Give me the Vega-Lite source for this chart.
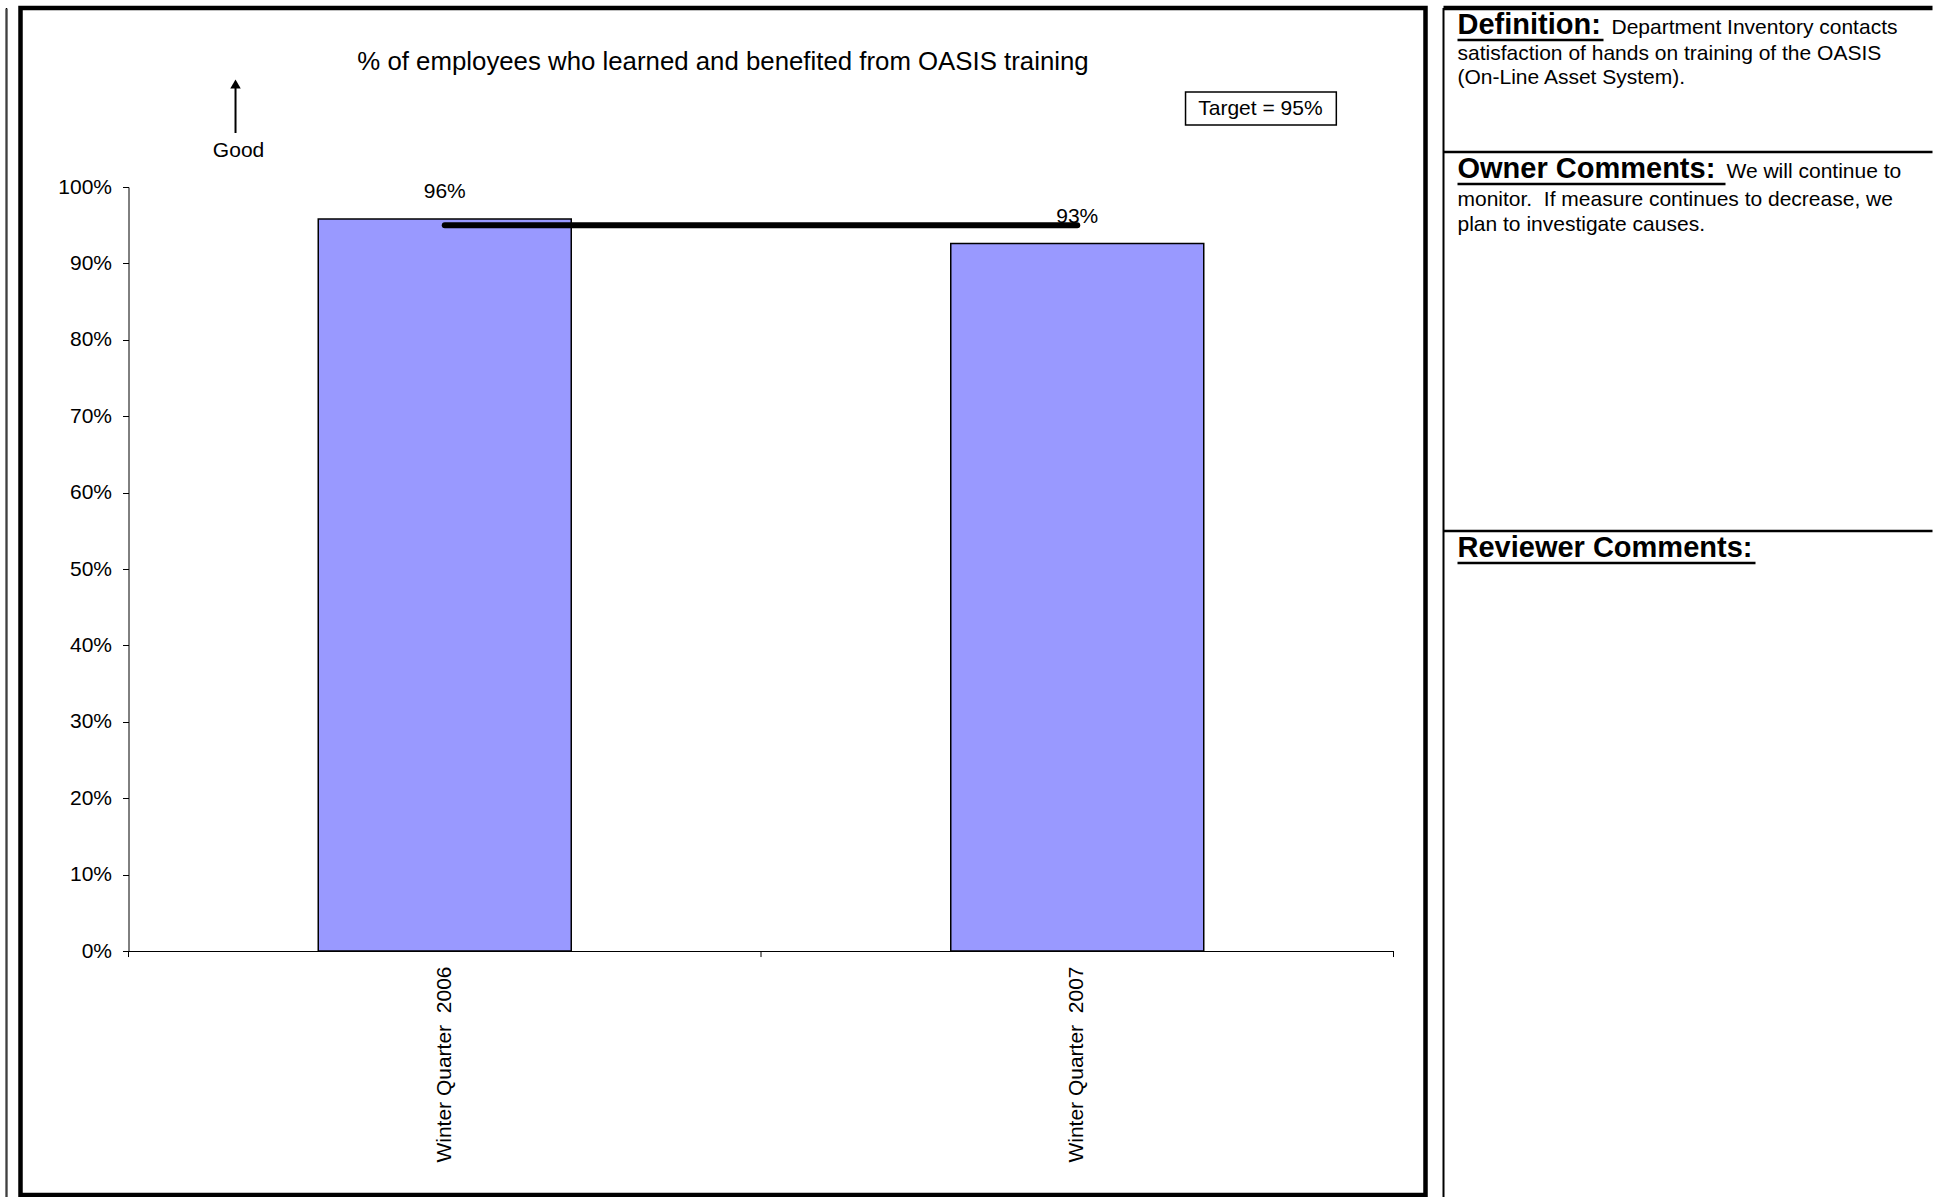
{
  "$schema": "https://vega.github.io/schema/vega-lite/v6.json",
  "background": "white",
  "padding": {"left": 4.5, "top": 5, "right": 0, "bottom": 0},
  "config": {
    "font": "Liberation Sans",
    "view": {"stroke": null},
    "text": {"font": "Liberation Sans", "color": "#000"},
    "axis": {"labelFont": "Liberation Sans", "labelColor": "#000", "domainColor": "#000", "tickColor": "#000", "grid": false, "title": null}
  },
  "datasets": {
    "scores": [
      {"quarter": "Winter Quarter 2006", "pct": 0.958, "target": 0.95},
      {"quarter": "Winter Quarter 2007", "pct": 0.926, "target": 0.95}
    ]
  },
  "spacing": 10,
  "hconcat": [
    {
      "width": 1,
      "height": 1190,
      "view": {"stroke": "#000", "strokeWidth": 1},
      "data": {"values": []},
      "mark": {"type": "rule"},
      "encoding": {}
    },
    {
      "spacing": 12,
      "hconcat": [
        {
          "width": 1405,
          "height": 1187,
          "view": {"stroke": "#000", "strokeWidth": 4.5},
          "data": {"name": "scores"},
          "layer": [
            {
              "mark": {"type": "bar", "fill": "#9999ff", "stroke": "#000", "strokeWidth": 1.5},
              "encoding": {
                "x": {
                  "field": "quarter", "type": "nominal", "sort": null, "title": null,
                  "scale": {"domain": ["Winter Quarter 2006", "Winter Quarter 2007"], "range": [108, 1373], "paddingInner": 0.6, "paddingOuter": 0.3},
                  "axis": {
                    "orient": "bottom", "offset": -244, "labelAngle": -90, "labelAlign": "right", "labelBaseline": "middle",
                    "labelFontSize": 21, "labelPadding": 15, "labelLimit": 400, "ticks": false, "domainWidth": 1,
                    "labelExpr": "replace(datum.label, 'Quarter ', 'Quarter\u00a0 ')"
                  }
                },
                "y": {
                  "field": "pct", "type": "quantitative", "title": null,
                  "scale": {"domain": [0, 1], "range": [943, 179], "nice": false},
                  "axis": {
                    "orient": "left", "offset": -108, "values": [0, 0.1, 0.2, 0.3, 0.4, 0.5, 0.6, 0.7, 0.8, 0.9, 1], "format": ".0%",
                    "labelFontSize": 21, "tickSize": 6, "labelPadding": 11, "domainWidth": 1
                  }
                }
              }
            },
            {
              "mark": {"type": "rule", "color": "#000", "strokeWidth": 1},
              "encoding": {
                "x": {"field": "quarter", "type": "nominal", "sort": null, "bandPosition": 1.75},
                "y": {"datum": 0, "type": "quantitative"},
                "y2": {"datum": -0.0079}
              }
            },
            {
              "data": {"values": [{}]},
              "mark": {"type": "rule", "color": "#000", "strokeWidth": 1},
              "encoding": {
                "x": {"datum": "Winter Quarter 2006", "type": "nominal", "bandPosition": -0.75},
                "y": {"datum": 0, "type": "quantitative"},
                "y2": {"datum": -0.0079}
              }
            },
            {
              "mark": {"type": "line", "color": "#000", "strokeWidth": 6, "strokeCap": "round"},
              "encoding": {
                "x": {"field": "quarter", "type": "nominal", "sort": null},
                "y": {"field": "target", "type": "quantitative"}
              }
            },
            {
              "mark": {"type": "text", "fontSize": 21, "dy": -21, "baseline": "alphabetic", "align": "center"},
              "encoding": {
                "x": {"field": "quarter", "type": "nominal", "sort": null},
                "y": {"field": "pct", "type": "quantitative"},
                "text": {"field": "pct", "type": "quantitative", "format": ".0%"}
              }
            },
            {
              "data": {"values": [{}]},
              "mark": {"type": "text", "fontSize": 25.8, "baseline": "alphabetic", "align": "center"},
              "encoding": {
                "y": {"datum": 1.1531, "type": "quantitative"},
                "text": {"value": "% of employees who learned and benefited from OASIS training"}
              }
            },
            {
              "data": {"values": [{}]},
              "mark": {"type": "text", "fontSize": 21, "baseline": "alphabetic", "align": "center"},
              "encoding": {
                "x": {"datum": "Winter Quarter 2006", "type": "nominal", "bandPosition": -0.315},
                "y": {"datum": 1.0393, "type": "quantitative"},
                "text": {"value": "Good"}
              }
            },
            {
              "data": {"values": [{}]},
              "mark": {"type": "rule", "color": "#000", "strokeWidth": 2},
              "encoding": {
                "x": {"datum": "Winter Quarter 2006", "type": "nominal", "bandPosition": -0.327},
                "y": {"datum": 1.0707, "type": "quantitative"},
                "y2": {"datum": 1.1309}
              }
            },
            {
              "data": {"values": [{}]},
              "mark": {"type": "point", "shape": "triangle-up", "filled": true, "size": 110, "color": "#000", "opacity": 1},
              "encoding": {
                "x": {"datum": "Winter Quarter 2006", "type": "nominal", "bandPosition": -0.327},
                "y": {"datum": 1.1348, "type": "quantitative"}
              }
            },
            {
              "data": {"values": [{}]},
              "mark": {"type": "rect", "fill": "#fff", "stroke": "#000", "strokeWidth": 1.5},
              "encoding": {
                "x": {"datum": "Winter Quarter 2007", "type": "nominal", "bandPosition": 0.928},
                "x2": {"datum": "Winter Quarter 2007", "bandPosition": 1.524},
                "y": {"datum": 1.0812, "type": "quantitative"},
                "y2": {"datum": 1.1243}
              }
            },
            {
              "data": {"values": [{}]},
              "mark": {"type": "text", "fontSize": 21, "baseline": "middle", "align": "center"},
              "encoding": {
                "x": {"datum": "Winter Quarter 2007", "type": "nominal", "bandPosition": 1.224},
                "y": {"datum": 1.1027, "type": "quantitative"},
                "text": {"value": "Target = 95%"}
              }
            }
          ]
        },
        {
          "width": 489,
          "height": 1189,
          "data": {"values": [{}]},
          "layer": [
            {
              "mark": {"type": "rule", "color": "#000", "strokeWidth": 4.5},
              "encoding": {
                "x": {"datum": 0, "type": "quantitative", "axis": null, "scale": {"domain": [0, 489], "nice": false, "zero": false}},
                "x2": {"datum": 489},
                "y": {"datum": 0, "type": "quantitative", "axis": null, "scale": {"domain": [0, 1189], "reverse": true, "nice": false, "zero": false}}
              }
            },
            {
              "mark": {"type": "rule", "color": "#000", "strokeWidth": 2},
              "encoding": {
                "x": {"datum": 0, "type": "quantitative", "axis": null, "scale": {"domain": [0, 489], "nice": false, "zero": false}},
                "y": {"datum": 0, "type": "quantitative", "axis": null, "scale": {"domain": [0, 1189], "reverse": true, "nice": false, "zero": false}},
                "y2": {"datum": 1189}
              }
            },
            {
              "mark": {"type": "rule", "color": "#000", "strokeWidth": 2.5},
              "encoding": {
                "x": {"datum": 0, "type": "quantitative", "axis": null, "scale": {"domain": [0, 489], "nice": false, "zero": false}},
                "x2": {"datum": 489},
                "y": {"datum": 144, "type": "quantitative", "axis": null, "scale": {"domain": [0, 1189], "reverse": true, "nice": false, "zero": false}}
              }
            },
            {
              "mark": {"type": "rule", "color": "#000", "strokeWidth": 2.5},
              "encoding": {
                "x": {"datum": 0, "type": "quantitative", "axis": null, "scale": {"domain": [0, 489], "nice": false, "zero": false}},
                "x2": {"datum": 489},
                "y": {"datum": 523, "type": "quantitative", "axis": null, "scale": {"domain": [0, 1189], "reverse": true, "nice": false, "zero": false}}
              }
            },
            {
              "mark": {"type": "text", "fontSize": 29, "fontWeight": "bold", "align": "left", "baseline": "alphabetic"},
              "encoding": {
                "x": {"datum": 14, "type": "quantitative", "axis": null, "scale": {"domain": [0, 489], "nice": false, "zero": false}},
                "y": {"datum": 26, "type": "quantitative", "axis": null, "scale": {"domain": [0, 1189], "reverse": true, "nice": false, "zero": false}},
                "text": {"value": "Definition:"}
              }
            },
            {
              "mark": {"type": "rule", "color": "#000", "strokeWidth": 2.5},
              "encoding": {
                "x": {"datum": 14, "type": "quantitative", "axis": null, "scale": {"domain": [0, 489], "nice": false, "zero": false}},
                "x2": {"datum": 160},
                "y": {"datum": 32, "type": "quantitative", "axis": null, "scale": {"domain": [0, 1189], "reverse": true, "nice": false, "zero": false}}
              }
            },
            {
              "mark": {"type": "text", "fontSize": 21, "align": "left", "baseline": "alphabetic"},
              "encoding": {
                "x": {"datum": 168, "type": "quantitative", "axis": null, "scale": {"domain": [0, 489], "nice": false, "zero": false}},
                "y": {"datum": 26, "type": "quantitative", "axis": null, "scale": {"domain": [0, 1189], "reverse": true, "nice": false, "zero": false}},
                "text": {"value": "Department Inventory contacts"}
              }
            },
            {
              "mark": {"type": "text", "fontSize": 21, "align": "left", "baseline": "alphabetic", "lineHeight": 24.5},
              "encoding": {
                "x": {"datum": 14, "type": "quantitative", "axis": null, "scale": {"domain": [0, 489], "nice": false, "zero": false}},
                "y": {"datum": 51.5, "type": "quantitative", "axis": null, "scale": {"domain": [0, 1189], "reverse": true, "nice": false, "zero": false}},
                "text": {"value": ["satisfaction of hands on training of the OASIS", "(On-Line Asset System)."]}
              }
            },
            {
              "mark": {"type": "text", "fontSize": 29, "fontWeight": "bold", "align": "left", "baseline": "alphabetic"},
              "encoding": {
                "x": {"datum": 14, "type": "quantitative", "axis": null, "scale": {"domain": [0, 489], "nice": false, "zero": false}},
                "y": {"datum": 170, "type": "quantitative", "axis": null, "scale": {"domain": [0, 1189], "reverse": true, "nice": false, "zero": false}},
                "text": {"value": "Owner Comments:"}
              }
            },
            {
              "mark": {"type": "rule", "color": "#000", "strokeWidth": 2.5},
              "encoding": {
                "x": {"datum": 14, "type": "quantitative", "axis": null, "scale": {"domain": [0, 489], "nice": false, "zero": false}},
                "x2": {"datum": 282},
                "y": {"datum": 176, "type": "quantitative", "axis": null, "scale": {"domain": [0, 1189], "reverse": true, "nice": false, "zero": false}}
              }
            },
            {
              "mark": {"type": "text", "fontSize": 21, "align": "left", "baseline": "alphabetic"},
              "encoding": {
                "x": {"datum": 283, "type": "quantitative", "axis": null, "scale": {"domain": [0, 489], "nice": false, "zero": false}},
                "y": {"datum": 170, "type": "quantitative", "axis": null, "scale": {"domain": [0, 1189], "reverse": true, "nice": false, "zero": false}},
                "text": {"value": "We will continue to"}
              }
            },
            {
              "mark": {"type": "text", "fontSize": 21, "align": "left", "baseline": "alphabetic", "lineHeight": 25},
              "encoding": {
                "x": {"datum": 14, "type": "quantitative", "axis": null, "scale": {"domain": [0, 489], "nice": false, "zero": false}},
                "y": {"datum": 197.5, "type": "quantitative", "axis": null, "scale": {"domain": [0, 1189], "reverse": true, "nice": false, "zero": false}},
                "text": {"value": ["monitor.\u00a0 If measure continues to decrease, we", "plan to investigate causes."]}
              }
            },
            {
              "mark": {"type": "text", "fontSize": 29, "fontWeight": "bold", "align": "left", "baseline": "alphabetic"},
              "encoding": {
                "x": {"datum": 14, "type": "quantitative", "axis": null, "scale": {"domain": [0, 489], "nice": false, "zero": false}},
                "y": {"datum": 549, "type": "quantitative", "axis": null, "scale": {"domain": [0, 1189], "reverse": true, "nice": false, "zero": false}},
                "text": {"value": "Reviewer Comments:"}
              }
            },
            {
              "mark": {"type": "rule", "color": "#000", "strokeWidth": 2.5},
              "encoding": {
                "x": {"datum": 14, "type": "quantitative", "axis": null, "scale": {"domain": [0, 489], "nice": false, "zero": false}},
                "x2": {"datum": 312},
                "y": {"datum": 555, "type": "quantitative", "axis": null, "scale": {"domain": [0, 1189], "reverse": true, "nice": false, "zero": false}}
              }
            }
          ]
        }
      ]
    }
  ]
}
